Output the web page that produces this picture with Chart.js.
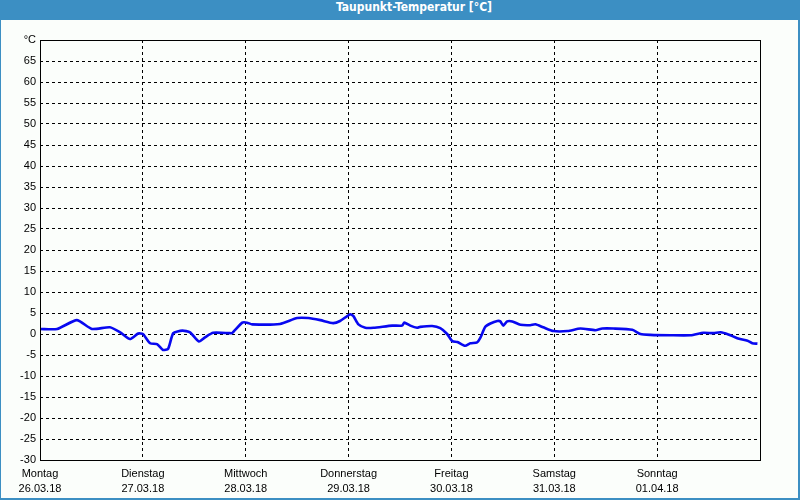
<!DOCTYPE html>
<html>
<head>
<meta charset="utf-8">
<script src="https://cdn.jsdelivr.net/npm/chart.js@4.4.1/dist/chart.umd.min.js"></script>
<style>
    html, body { margin: 0; padding: 0; }
    body { width: 800px; height: 500px; background: #3c8fc3; position: relative; overflow: hidden; }
    #title { position: absolute; left: 28px; top: 0; width: 772px; height: 20px; line-height: 20px;
             text-align: center; color: #fff; font: bold 12px "DejaVu Sans Condensed", "DejaVu Sans", sans-serif; }
    #panel { position: absolute; left: 1px; top: 20px; width: 797px; height: 478px; background: #fbfefb; }
    #chart { position: absolute; left: 0; top: 0; }
</style>
</head>
<body>
<div id="title">Taupunkt-Temperatur [°C]</div>
<div id="panel"></div>
<canvas id="chart" width="800" height="500"></canvas>
<script>
// Achsenbeschriftung
const dayNames = ['Montag', 'Dienstag', 'Mittwoch', 'Donnerstag', 'Freitag', 'Samstag', 'Sonntag'];
const dayDates = ['26.03.18', '27.03.18', '28.03.18', '29.03.18', '30.03.18', '31.03.18', '01.04.18'];
const yMin = -30;
const yMax = 70;

// Messwerte: Stunden seit Montag 00:00 und Taupunkt in °C
const hours = [0, 4, 8.6, 12.1, 16.3, 18.7, 21, 22.9, 24, 25.7, 27.3, 28.7, 29.9, 31.1, 33.2, 35, 37.1, 38.5, 40.4,
    44.4, 44.8, 47.2, 48.3, 49.5, 56, 60, 62.6, 65.4, 68.4, 70, 72.4, 73.1, 74.3, 75.9, 77.8, 82.2, 84.5, 85, 86.4, 88,
    88.7, 91.5, 93.4, 95, 96.2, 97.4, 99.2, 100.4, 102, 102.7, 103.9, 105.1, 106.7, 107.4, 108.1, 109, 110.2, 112.1,
    114.4, 115.6, 117.4, 119.8, 123.1, 126.1, 129.6, 131.2, 133.8, 138.2, 140.1, 142.4, 147.1, 151.8, 154.8, 157.1,
    158.8, 160.6, 162.7, 165.1, 166.2, 167.4];
const dewPoint = [1.2, 1.2, 3.3, 1.2, 1.6, 0.4, -1.2, 0.1, 0, -2.2, -2.4, -3.8, -3.5, 0.2, 0.8, 0.4, -1.8, -0.8, 0.3,
    0.2, 0.2, 2.7, 2.7, 2.3, 2.4, 3.8, 3.8, 3.3, 2.6, 3.1, 4.7, 4.3, 2.3, 1.5, 1.5, 2.0, 2.0, 2.7, 2.0, 1.5,
    1.7, 1.9, 1.4, 0, -1.7, -1.9, -2.8, -2.2, -2.0, -1.0, 1.7, 2.5, 3.1, 3.0, 2.0, 3.0, 3.0, 2.2,
    2.1, 2.3, 1.6, 0.7, 0.7, 1.3, 0.9, 1.3, 1.3, 1.0, 0.0, -0.2, -0.3, -0.3, 0.3, 0.2,
    0.4, -0.1, -1.0, -1.6, -2.2, -2.3];

const points = hours.map((h, i) => ({ x: h, y: dewPoint[i] }));

// Rahmen um die Zeichenfläche
const frame = {
    id: 'frame',
    afterDraw(chart) {
        const a = chart.chartArea;
        const c = chart.ctx;
        c.save();
        c.strokeStyle = '#000';
        c.lineWidth = 1;
        c.strokeRect(Math.round(a.left) + 0.5, Math.round(a.top) + 0.5,
            Math.round(a.right - a.left), Math.round(a.bottom - a.top));
        c.restore();
    }
};

const labelFont = { family: 'Liberation Sans', size: 11, lineHeight: 1.35 };

const ctx = document.getElementById('chart').getContext('2d');
new Chart(ctx, {
    type: 'line',
    data: {
        datasets: [{
            data: points,
            borderColor: '#0808f0',
            borderWidth: 2.6,
            pointRadius: 0,
            tension: 0.2,
            fill: false
        }]
    },
    options: {
        responsive: false,
        animation: false,
        layout: { padding: { top: 40, right: 40, left: 0, bottom: 0 } },
        plugins: { legend: { display: false }, tooltip: { enabled: false } },
        scales: {
            x: {
                type: 'linear',
                min: 0,
                max: 168,
                afterFit: s => { s.height = 40; },
                afterBuildTicks: s => {
                    s.ticks = [0, 24, 48, 72, 96, 120, 144, 168].map(v => ({ value: v }));
                },
                grid: { color: '#000', lineWidth: 1, drawTicks: false },
                border: { display: false, dash: [3, 3] },
                ticks: {
                    maxRotation: 0,
                    autoSkip: false,
                    padding: 7,
                    color: '#000',
                    font: labelFont,
                    callback: v => {
                        const i = v / 24;
                        return i < dayNames.length ? [dayNames[i], dayDates[i]] : '';
                    }
                }
            },
            y: {
                min: yMin,
                max: yMax,
                afterFit: s => { s.width = 40; },
                grid: { color: '#000', lineWidth: 1, drawTicks: false },
                border: { display: false, dash: [3, 3] },
                ticks: {
                    stepSize: 5,
                    padding: 4,
                    color: '#000',
                    font: labelFont,
                    callback: v => (v === yMax ? '°C' : v)
                }
            }
        }
    },
    plugins: [frame]
});
</script>
</body>
</html>
